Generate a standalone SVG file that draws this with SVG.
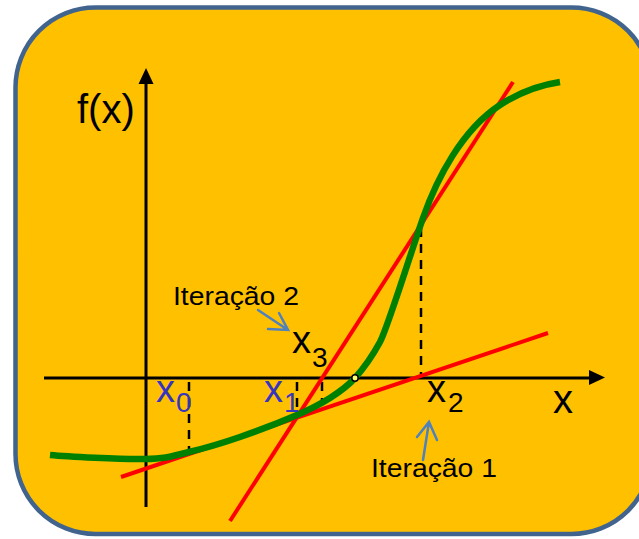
<svg xmlns="http://www.w3.org/2000/svg" width="639" height="539" viewBox="0 0 639 539">
<style>
.axis{stroke:#000;stroke-width:3;fill:none}
.dash{stroke:#000;stroke-width:2.5;stroke-dasharray:9 7;fill:none}
.red{stroke:#FF0000;stroke-width:4;fill:none}
.green{stroke:#008000;stroke-width:6.5;fill:none;stroke-linecap:butt}
.blue{stroke:#4F81BD;stroke-width:2.5;fill:none;stroke-linecap:round}
.t{font-family:"Liberation Sans",Arial,sans-serif;fill:#000}
.b{fill:#3535C0}
</style>
<g id="background">
<rect x="15.5" y="7.5" width="636" height="526.5" rx="80" ry="80" fill="#FFC000" stroke="#41648F" stroke-width="4.5"/>
</g>
<g id="connectors">
<line class="axis" x1="44" y1="378" x2="590" y2="378"/>
<path d="M589,370 L605,377.5 L589,385 Z" fill="#000"/>
<line class="axis" x1="146" y1="507" x2="146" y2="83"/>
<path d="M138.5,84 L146,68 L153.5,84 Z" fill="#000"/>
<line class="dash" x1="189" y1="382" x2="189" y2="452"/>
<line class="dash" x1="297" y1="382" x2="297" y2="415"/>
<line class="dash" x1="322" y1="382" x2="322" y2="401"/>
<line class="dash" x1="421" y1="228" x2="421" y2="376"/>
<line class="red" x1="121" y1="477" x2="548" y2="333"/>
<line class="red" x1="230" y1="521" x2="513" y2="82"/>
<path class="blue" d="M258,310 L288,330 M268,329 L288,330 L279,313"/>
<path class="blue" d="M423,460 L429,422 M417,437 L429,422 L437,440"/>
</g>
<g id="curve">
<path class="green" d="M50,455 C66,456.5 121.8,459.5 145,459 C168.2,458.5 173.2,455.7 189,452 C204.8,448.3 222,443.2 240,437 C258,430.8 282,421.5 297,415 C312,408.5 320.3,404.2 330,398 C339.7,391.8 346.7,387.3 355,378 C363.3,368.7 372.5,355.8 380,342 C387.5,328.2 410,255 423,218 C437,178 462,130 500,105 C520,92 540,85 560,82"/>
<circle cx="355" cy="378" r="3.2" fill="#FFFF66" stroke="#000" stroke-width="1.5"/>
</g>
<g id="labels">
<text class="t" x="77" y="123" font-size="40">f(x)</text>
<text class="t" x="553" y="413" font-size="40">x</text>
<text class="t b" x="156" y="402" font-size="38">x</text>
<text class="t b" x="176" y="412" font-size="28">0</text>
<text class="t b" x="264" y="402" font-size="38">x</text>
<text class="t b" x="284" y="412" font-size="28">1</text>
<text class="t" x="292" y="353" font-size="38">x</text>
<text class="t" x="312" y="367" font-size="28">3</text>
<text class="t" x="427" y="402" font-size="38">x</text>
<text class="t" x="448" y="412" font-size="28">2</text>
<text class="t" x="173" y="305" font-size="26" textLength="126" lengthAdjust="spacingAndGlyphs">Iteração 2</text>
<text class="t" x="371" y="477" font-size="26" textLength="126" lengthAdjust="spacingAndGlyphs">Iteração 1</text>
</g>
</svg>
